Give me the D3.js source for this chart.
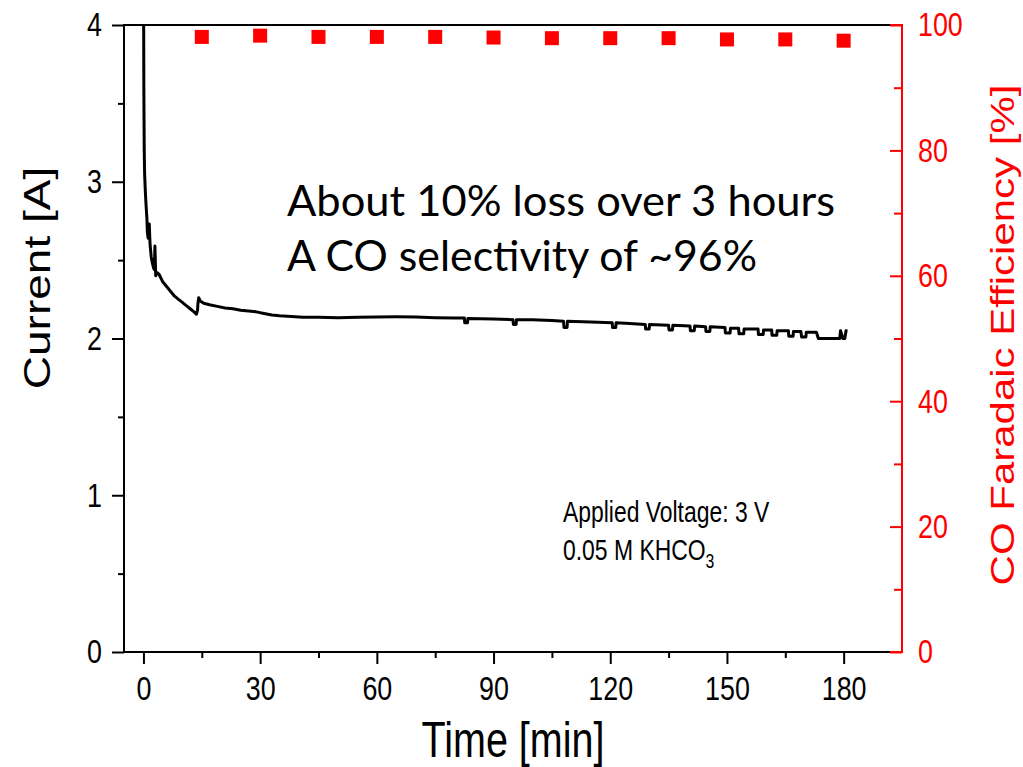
<!DOCTYPE html>
<html>
<head>
  <meta charset="UTF-8">
  <title>Current and CO Faradaic Efficiency vs Time</title>
  <script src="https://d3js.org/d3.v7.min.js"></script>
  <style>
    body { margin: 0; background: #fff; }
    svg { display: block; font-family: "Liberation Sans", Arial, sans-serif; }
    .tick line { stroke-width: 2; }
    .note { font-family: Lato, "Open Sans", sans-serif; }
  </style>
</head>
<body>
  <svg id="chart" width="1023" height="767"></svg>
  <script>
    // tick values
    var timeTicks = [0, 30, 60, 90, 120, 150, 180];
    var timeMinor = [15, 45, 75, 105, 135, 165];
    var currentTicks = [0, 1, 2, 3, 4];
    var currentMinor = [0.5, 1.5, 2.5, 3.5];
    var feTicks = [0, 20, 40, 60, 80, 100];
    var feMinor = [10, 30, 50, 70, 90];

    // CO faradaic efficiency samples (red squares)
    var feTime = [15, 30, 45, 60, 75, 90, 105, 120, 135, 150, 165, 180];
    var feValue = [98.1, 98.3, 98.1, 98.1, 98.1, 98.0, 97.9, 97.9, 97.9, 97.7, 97.7, 97.5];

    // current trace: [time min, current A]
    var currentTrace = [
      [0, 4.6], [0.1, 3.6], [0.2, 3.2], [0.3, 3.05], [0.5, 2.93], [0.7, 2.84],
      [0.9, 2.76], [1.0, 2.68], [1.2, 2.64], [1.5, 2.73], [1.7, 2.6], [2.0, 2.52],
      [2.3, 2.48], [2.6, 2.45], [2.8, 2.44], [2.95, 2.59], [3.15, 2.40], [3.5, 2.42],
      [4.0, 2.41], [5, 2.36], [6, 2.33], [7, 2.30], [8, 2.27], [9, 2.25], [10, 2.23],
      [11, 2.21], [12, 2.19], [13, 2.17], [13.6, 2.155], [13.9, 2.18], [14.0, 2.22],
      [14.2, 2.26], [14.6, 2.24], [15.5, 2.225], [17, 2.215], [19, 2.205], [21, 2.195],
      [23, 2.19], [25, 2.18], [27, 2.175], [29, 2.17], [31, 2.16], [33, 2.15],
      [35, 2.145], [38, 2.14], [41, 2.135], [45, 2.135], [50, 2.133], [55, 2.135],
      [60, 2.137], [65, 2.138], [70, 2.137], [75, 2.133], [80, 2.13],
      [82.5, 2.13], [82.6, 2.10], [83.3, 2.10], [83.4, 2.128], [90, 2.125],
      [95, 2.12], [95.1, 2.09], [95.8, 2.09], [95.9, 2.12], [100, 2.12], [105, 2.115],
      [108, 2.11], [108.1, 2.07], [108.9, 2.07], [109, 2.11], [115, 2.105],
      [120.5, 2.10], [120.6, 2.07], [121.4, 2.07], [121.5, 2.10], [125, 2.095],
      [129, 2.09], [129.1, 2.06], [130, 2.06], [130.1, 2.09],
      [135, 2.085], [135.1, 2.055], [136, 2.055], [136.1, 2.085],
      [140.5, 2.08], [140.6, 2.05], [141.6, 2.05], [141.7, 2.08],
      [144.5, 2.075], [144.6, 2.045], [145.6, 2.045], [145.7, 2.075],
      [149.5, 2.07], [149.6, 2.035], [150.8, 2.035], [150.9, 2.065],
      [153, 2.065], [153.1, 2.03], [154.3, 2.03], [154.4, 2.06],
      [158, 2.06], [158.1, 2.025], [159.3, 2.025], [159.4, 2.055],
      [161.5, 2.055], [161.6, 2.02], [162.8, 2.02], [162.9, 2.05],
      [165.8, 2.05], [165.9, 2.015], [167, 2.015], [167.1, 2.045],
      [169, 2.045], [169.2, 2.01], [170.3, 2.01], [170.4, 2.04],
      [173, 2.04], [173.5, 2.0], [179, 2.0], [179.2, 2.05], [179.8, 2.0],
      [180.3, 2.0], [180.6, 2.05], [181, 2.05]
    ];

    var SQ = 0.79; // horizontal squeeze of the lettering in the picture
    var plotL = 124, plotR = 902, plotT = 25, plotB = 652;
    var red = "#ff0000";

    var svg = d3.select("#chart");

    var x = d3.scaleLinear().domain([-5, 195]).range([plotL, plotR]);
    var yL = d3.scaleLinear().domain([0, 4]).range([plotB, plotT]);
    var yR = d3.scaleLinear().domain([0, 100]).range([plotB, plotT]);

    svg.append("clipPath").attr("id", "plotclip")
      .append("rect")
      .attr("x", plotL).attr("y", plotT)
      .attr("width", plotR - plotL).attr("height", plotB - plotT);

    // x axis
    var gx = svg.append("g").attr("transform", "translate(0," + plotB + ")")
      .call(d3.axisBottom(x).tickValues(timeTicks).tickSizeInner(12).tickSizeOuter(0).tickPadding(12));
    svg.append("g").attr("transform", "translate(0," + plotB + ")")
      .call(d3.axisBottom(x).tickValues(timeMinor).tickSizeInner(6).tickSizeOuter(0).tickFormat(""));

    // left axis
    var gl = svg.append("g").attr("transform", "translate(" + plotL + ",0)")
      .call(d3.axisLeft(yL).tickValues(currentTicks).tickFormat(d3.format("d"))
        .tickSizeInner(12).tickSizeOuter(0).tickPadding(10));
    svg.append("g").attr("transform", "translate(" + plotL + ",0)")
      .call(d3.axisLeft(yL).tickValues(currentMinor).tickSizeInner(6).tickSizeOuter(0).tickFormat(""));

    // right axis, ticks pointing inward
    var gr = svg.append("g").attr("transform", "translate(" + plotR + ",0)")
      .call(d3.axisRight(yR).tickValues(feTicks).tickFormat(d3.format("d"))
        .tickSizeInner(-12).tickSizeOuter(0).tickPadding(16));
    var grm = svg.append("g").attr("transform", "translate(" + plotR + ",0)")
      .call(d3.axisRight(yR).tickValues(feMinor).tickSizeInner(-8).tickSizeOuter(0).tickFormat(""));

    svg.selectAll(".domain").remove();
    svg.selectAll(".tick text").attr("font-family", null).style("font-size", "34px");

    gx.selectAll(".tick text").attr("dy", "0.71em")
      .attr("transform", "scale(" + SQ + ",1)");
    gl.selectAll(".tick text").attr("x", -22 / SQ)
      .attr("transform", "scale(" + SQ + ",1)");
    gr.selectAll(".tick text").attr("x", 16 / SQ).attr("fill", red)
      .attr("transform", "scale(" + SQ + ",1)");
    gr.selectAll("line").attr("stroke", red);
    grm.selectAll("line").attr("stroke", red);

    // frame
    svg.append("path")
      .attr("d", "M" + (plotR - 12) + "," + plotT + "H" + plotL + "V" + plotB + "H" + (plotR - 12))
      .attr("fill", "none").attr("stroke", "#000").attr("stroke-width", 2);
    svg.append("path")
      .attr("d", "M" + (plotR - 12) + "," + plotT + "H" + plotR + "V" + plotB + "H" + (plotR - 12))
      .attr("fill", "none").attr("stroke", red).attr("stroke-width", 2);

    // current trace
    var line = d3.line()
      .x(function (d) { return x(d[0]); })
      .y(function (d) { return yL(d[1]); });
    svg.append("path")
      .datum(currentTrace)
      .attr("clip-path", "url(#plotclip)")
      .attr("d", line)
      .attr("fill", "none")
      .attr("stroke", "#000")
      .attr("stroke-width", 3)
      .attr("stroke-linejoin", "round");

    // faradaic efficiency squares
    var sq = 14;
    svg.selectAll(".fe")
      .data(feTime.map(function (t, i) { return { t: t, v: feValue[i] }; }))
      .enter().append("rect")
      .attr("class", "fe")
      .attr("x", function (d) { return x(d.t) - sq / 2; })
      .attr("y", function (d) { return yR(d.v) - sq / 2; })
      .attr("width", sq).attr("height", sq)
      .attr("fill", red);

    // axis titles
    svg.append("text")
      .attr("transform", "translate(513,757) scale(" + SQ + ",1)")
      .attr("text-anchor", "middle").style("font-size", "50px")
      .text("Time [min]");
    svg.append("text")
      .attr("transform", "translate(50,278) scale(" + SQ + ",1) rotate(-90)")
      .attr("text-anchor", "middle").style("font-size", "46px")
      .text("Current [A]");
    svg.append("text")
      .attr("transform", "translate(1014,335) scale(" + SQ + ",1) rotate(-90)")
      .attr("text-anchor", "middle").style("font-size", "42px")
      .attr("fill", red)
      .text("CO Faradaic Efficiency [%]");

    // annotations
    svg.append("text").attr("class", "note")
      .attr("x", 287).attr("y", 216)
      .attr("textLength", 548).attr("lengthAdjust", "spacingAndGlyphs")
      .style("font-size", "43px")
      .text("About 10% loss over 3 hours");
    svg.append("text").attr("class", "note")
      .attr("x", 287).attr("y", 271)
      .attr("textLength", 470).attr("lengthAdjust", "spacingAndGlyphs")
      .style("font-size", "43px")
      .text("A CO selectivity of ~96%");

    svg.append("text")
      .attr("transform", "translate(563,522) scale(" + SQ + ",1)")
      .style("font-size", "29px")
      .text("Applied Voltage: 3 V");
    var chem = svg.append("text")
      .attr("transform", "translate(563,560) scale(" + SQ + ",1)")
      .style("font-size", "29px");
    chem.append("tspan").text("0.05 M KHCO");
    chem.append("tspan").attr("dy", 8).style("font-size", "20px").text("3");
  </script>
</body>
</html>
